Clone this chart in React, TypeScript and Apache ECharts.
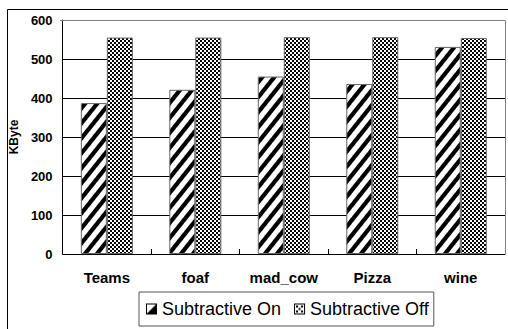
import React, { useEffect, useRef } from "react";
import * as echarts from "echarts";

const categories = ["Teams", "foaf", "mad_cow", "Pizza", "wine"];
const onValues = [387, 421, 455, 436, 531];
const offValues = [555, 555, 556, 556, 554];
const seriesNames = ["Subtractive On", "Subtractive Off"];
const yMin = 0;
const yMax = 600;
const yStep = 100;

function stripeTile(): HTMLCanvasElement {
  const px = 12;
  const py = 15;
  const c = document.createElement("canvas");
  c.width = px;
  c.height = py;
  const ctx = c.getContext("2d")!;
  const img = ctx.createImageData(px, py);
  const norm = Math.sqrt(1 / (px * px) + 1 / (py * py));
  const half = 1.9;
  for (let y = 0; y < py; y++) {
    for (let x = 0; x < px; x++) {
      let f = ((x + 0.5) / px + (y + 0.5) / py) % 1;
      const d = Math.min(f, 1 - f) / norm;
      const cov = Math.max(0, Math.min(1, half + 0.7 - d));
      const v = Math.round(255 * (1 - cov));
      const i = (y * px + x) * 4;
      img.data[i] = v;
      img.data[i + 1] = v;
      img.data[i + 2] = v;
      img.data[i + 3] = 255;
    }
  }
  ctx.putImageData(img, 0, 0);
  return c;
}

function checkerTile(): HTMLCanvasElement {
  const c = document.createElement("canvas");
  c.width = 8;
  c.height = 8;
  const ctx = c.getContext("2d")!;
  ctx.fillStyle = "#ffffff";
  ctx.fillRect(0, 0, 8, 8);
  ctx.fillStyle = "#000000";
  for (let y = 0; y < 8; y += 2) {
    for (let x = 0; x < 8; x += 2) {
      if (((x + y) / 2) % 2 === 0) ctx.fillRect(x, y, 2, 2);
    }
  }
  return c;
}

function onIcon(): string {
  const c = document.createElement("canvas");
  c.width = 11;
  c.height = 11;
  const ctx = c.getContext("2d")!;
  ctx.fillStyle = "#ffffff";
  ctx.fillRect(0, 0, 11, 11);
  ctx.fillStyle = "#000000";
  ctx.beginPath();
  ctx.moveTo(10.5, 0.5);
  ctx.lineTo(10.5, 10.5);
  ctx.lineTo(0.5, 10.5);
  ctx.closePath();
  ctx.fill();
  ctx.strokeStyle = "#000000";
  ctx.lineWidth = 1;
  ctx.strokeRect(0.5, 0.5, 10, 10);
  return c.toDataURL();
}

function offIcon(): string {
  const c = document.createElement("canvas");
  c.width = 11;
  c.height = 11;
  const ctx = c.getContext("2d")!;
  ctx.fillStyle = "#ffffff";
  ctx.fillRect(0, 0, 11, 11);
  ctx.fillStyle = "#000000";
  ctx.fillRect(2, 2, 2, 2);
  ctx.fillRect(7, 2, 2, 2);
  ctx.fillRect(2, 7, 2, 2);
  ctx.fillRect(7, 7, 2, 2);
  ctx.fillRect(4.5, 4.5, 2, 2);
  ctx.strokeStyle = "#000000";
  ctx.lineWidth = 1;
  ctx.strokeRect(0.5, 0.5, 10, 10);
  return c.toDataURL();
}

export default function App() {
  const ref = useRef<HTMLDivElement>(null);
  useEffect(() => {
    if (!ref.current) return;
    const chart = echarts.init(ref.current, null, { renderer: "svg" });
    const stripes = stripeTile();
    const checker = checkerTile();
    const font = "Arial, 'Liberation Sans', sans-serif";
    chart.setOption({
      animation: false,
      backgroundColor: "#ffffff",
      textStyle: { fontFamily: font },
      graphic: [
        {
          type: "rect",
          shape: { x: 7.5, y: 9.5, width: 620, height: 400 },
          style: { fill: "none", stroke: "#000000", lineWidth: 1 },
          z: 0,
          silent: true,
        },
        {
          type: "polyline",
          shape: { points: [[60, 20.5], [505.5, 20.5], [505.5, 254]] },
          style: { fill: "none", stroke: "#808080", lineWidth: 1 },
          z: 1,
          silent: true,
        },
      ],
      grid: { left: 60, top: 20, right: 3, bottom: 75, containLabel: false },
      legend: {
        left: 139,
        top: 292,
        orient: "horizontal",
        itemWidth: 11,
        itemHeight: 11,
        itemGap: 13,
        padding: [8, 5, 8, 7],
        borderColor: "#555555",
        borderWidth: 1,
        backgroundColor: "#ffffff",
        textStyle: { fontFamily: font, fontSize: 18, color: "#000000" },
        data: [
          { name: seriesNames[0], icon: "image://" + onIcon() },
          { name: seriesNames[1], icon: "image://" + offIcon() },
        ],
      },
      xAxis: {
        type: "category",
        data: categories,
        axisLine: { lineStyle: { color: "#000000", width: 1 } },
        axisTick: { show: true, inside: true, length: 5, lineStyle: { color: "#000000" } },
        axisLabel: {
          interval: 0,
          fontFamily: font,
          fontWeight: "bold",
          fontSize: 15,
          color: "#000000",
          margin: 16,
        },
      },
      yAxis: {
        type: "value",
        min: yMin,
        max: yMax,
        interval: yStep,
        name: "KByte",
        nameLocation: "middle",
        nameGap: 37,
        nameRotate: 90,
        nameTextStyle: { fontFamily: font, fontWeight: "bold", fontSize: 12, color: "#000000" },
        axisLine: { show: true, lineStyle: { color: "#000000", width: 1 } },
        axisTick: { show: false },
        axisLabel: {
          fontFamily: font,
          fontWeight: "bold",
          fontSize: 13,
          color: "#000000",
          margin: 10,
        },
        splitLine: { show: true, lineStyle: { color: "#000000", width: 1 } },
      },
      series: [
        {
          name: seriesNames[0],
          type: "bar",
          data: onValues,
          barWidth: 26,
          barGap: "0%",
          itemStyle: {
            color: { image: stripes, repeat: "repeat", imageWidth: 12, imageHeight: 15 },
            borderColor: "#666666",
            borderWidth: 1,
          },
        },
        {
          name: seriesNames[1],
          type: "bar",
          data: offValues,
          barWidth: 26,
          barGap: "0%",
          itemStyle: {
            color: { image: checker, repeat: "repeat", imageWidth: 8, imageHeight: 8 },
            borderColor: "#666666",
            borderWidth: 1,
          },
        },
      ],
    });
    return () => chart.dispose();
  }, []);
  return (
    <div
      ref={ref}
      style={{ position: "fixed", left: 0, top: 0, width: 508, height: 329 }}
    />
  );
}
